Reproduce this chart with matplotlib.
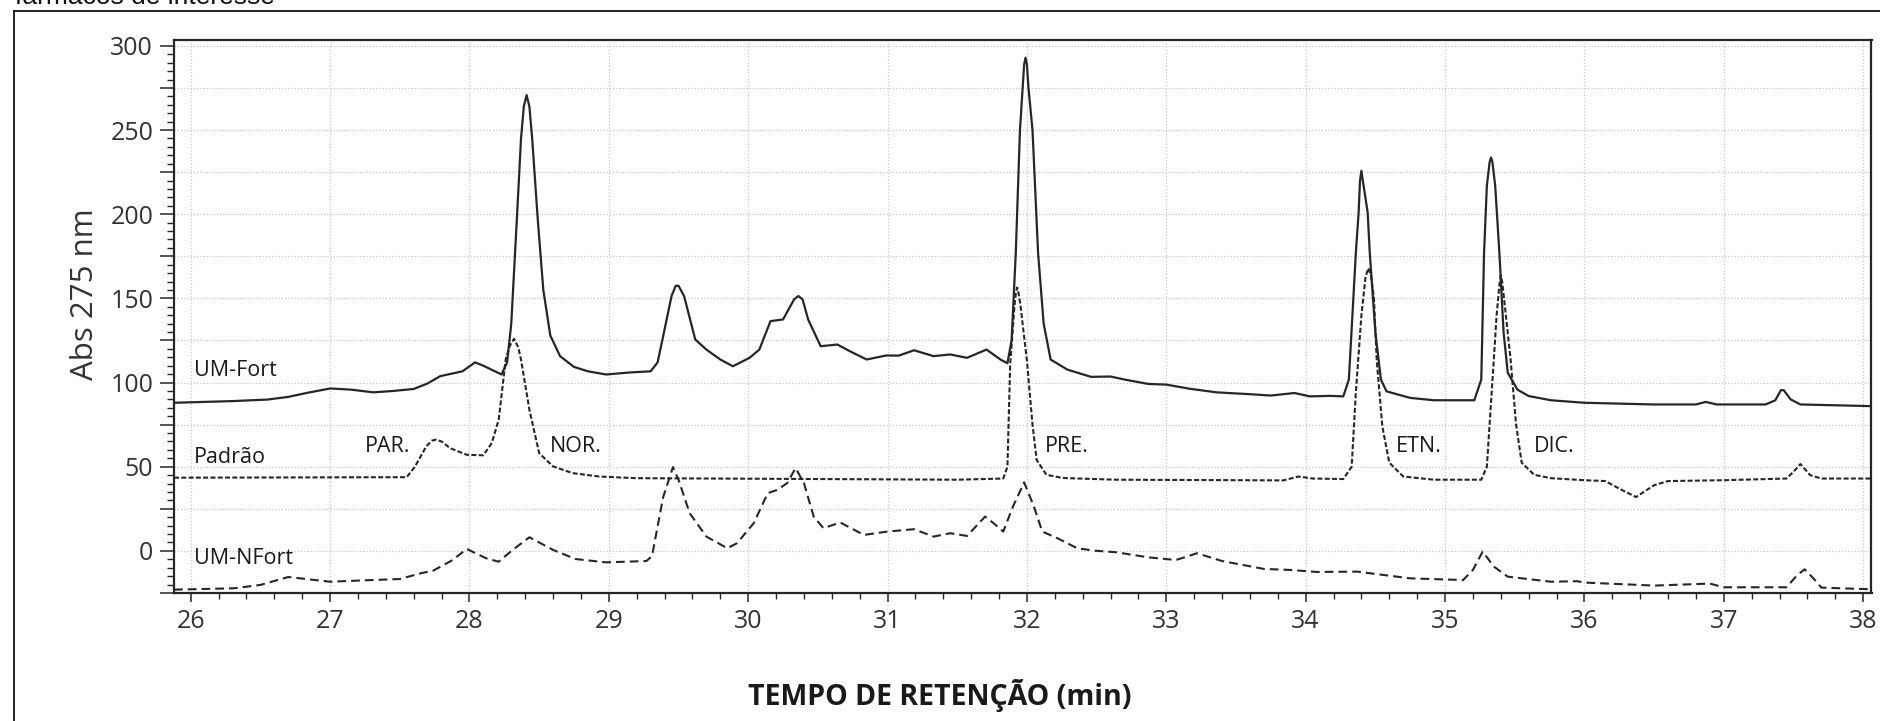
"""
plot.py
-------
Recreate the HPLC chromatogram comparison (UM-Fort / Padrao / UM-NFort).
"""

import matplotlib
matplotlib.use("Agg")
import matplotlib.pyplot as plt
from matplotlib.lines import Line2D
from matplotlib.ticker import MultipleLocator, FuncFormatter

# --- data (retention time in min, absorbance) ---
um_fort_t = [25.88, 26.0, 26.3, 26.55, 26.7, 26.83, 27.0, 27.15, 27.31, 27.45,
             27.6, 27.7, 27.79, 27.95, 28.04, 28.1, 28.23, 28.27, 28.30, 28.34,
             28.37, 28.39, 28.41, 28.43, 28.45, 28.49, 28.53, 28.58, 28.65, 28.75,
             28.85, 28.98, 29.15, 29.30, 29.35, 29.39, 29.45, 29.48, 29.50, 29.54,
             29.62, 29.70, 29.80, 29.89, 30.01, 30.08, 30.16, 30.25, 30.33, 30.36,
             30.39, 30.43, 30.52, 30.64, 30.73, 30.85, 30.99, 31.08, 31.19, 31.33,
             31.45, 31.57, 31.71, 31.81, 31.86, 31.89, 31.92, 31.95, 31.97, 31.98,
             31.99, 32.00, 32.01, 32.04, 32.08, 32.12, 32.17, 32.29, 32.46, 32.60,
             32.70, 32.87, 33.0, 33.17, 33.36, 33.60, 33.75, 33.92, 34.03, 34.18,
             34.27, 34.31, 34.36, 34.38, 34.39, 34.40, 34.41, 34.425, 34.445, 34.46,
             34.50, 34.54, 34.58, 34.75, 34.92, 35.21, 35.26, 35.28, 35.30, 35.32,
             35.33, 35.34, 35.36, 35.39, 35.42, 35.45, 35.52, 35.60, 35.76, 36.0,
             36.5, 36.8, 36.87, 36.95, 37.3, 37.37, 37.41, 37.43, 37.48, 37.55,
             38.06]
um_fort_v = [88.0, 88.3, 89.0, 89.9, 91.5, 93.8, 96.5, 95.8, 94.2, 95.0,
             96.2, 99.5, 103.8, 106.7, 112.0, 110.0, 104.8, 112.0, 135.0, 197.0,
             245.0, 264.0, 270.8, 264.0, 245.0, 197.0, 155.0, 128.0, 115.7, 109.3,
             106.7, 104.8, 106.0, 106.7, 112.0, 127.6, 151.4, 157.5, 157.5, 151.4,
             125.6, 119.6, 113.7, 109.7, 114.7, 119.6, 136.5, 137.5, 149.5, 151.4,
             149.5, 137.5, 121.6, 122.6, 118.6, 113.7, 116.1, 116.0, 119.2, 115.7,
             116.7, 114.7, 119.6, 113.7, 111.5, 125.0, 177.0, 250.0, 276.0, 289.0,
             293.0, 289.0, 276.0, 250.0, 177.0, 135.0, 113.7, 107.7, 103.4, 103.6,
             101.8, 99.2, 98.8, 96.3, 94.2, 93.1, 92.3, 93.8, 91.8, 92.1,
             91.8, 101.8, 177.0, 201.0, 220.0, 225.8, 220.0, 212.0, 201.0, 177.0,
             130.0, 101.8, 94.8, 90.9, 89.5, 89.5, 101.8, 177.0, 216.8, 231.0,
             233.7, 231.0, 216.8, 177.0, 130.0, 105.8, 95.8, 92.0, 89.5, 88.0,
             87.0, 87.0, 88.5, 87.0, 87.0, 89.5, 95.5, 95.5, 90.0, 87.0,
             86.0]

padrao_t = [25.88, 27.55, 27.61, 27.69, 27.73, 27.76, 27.80, 27.86, 27.98, 28.1,
            28.16, 28.21, 28.26, 28.29, 28.32, 28.35, 28.37, 28.43, 28.50, 28.6,
            28.74, 28.93, 29.2, 30.5, 31.5, 31.83, 31.86, 31.88, 31.91, 31.92,
            31.93, 31.94, 31.955, 32.0, 32.04, 32.07, 32.14, 32.26, 32.64, 33.84,
            33.95, 34.05, 34.27, 34.33, 34.36, 34.40, 34.43, 34.45, 34.47, 34.49,
            34.51, 34.55, 34.60, 34.70, 34.92, 35.26, 35.30, 35.35, 35.37, 35.39,
            35.40, 35.41, 35.43, 35.47, 35.51, 35.55, 35.64, 35.76, 36.0, 36.15,
            36.25, 36.37, 36.5, 36.6, 37.0, 37.45, 37.50, 37.55, 37.62, 37.7,
            38.06]
padrao_v = [43.5, 43.8, 50.2, 62.1, 65.5, 66.1, 65.0, 61.1, 57.1, 56.8,
            64.1, 78.0, 113.7, 122.0, 126.0, 121.0, 113.7, 83.9, 58.1, 50.2,
            46.2, 44.2, 43.2, 42.7, 42.3, 43.0, 50.0, 111.0, 145.0, 153.0,
            156.5, 153.0, 145.0, 113.0, 75.0, 54.0, 45.2, 43.3, 42.3, 41.9,
            44.2, 43.0, 42.7, 50.0, 94.0, 140.0, 163.0, 168.0, 163.0, 150.0,
            113.0, 74.0, 52.4, 44.2, 42.3, 42.3, 50.0, 113.7, 140.0, 158.0,
            163.7, 160.0, 145.0, 114.0, 75.0, 52.4, 45.2, 43.2, 42.0, 41.5,
            37.0, 32.0, 39.0, 41.5, 42.0, 43.0, 47.0, 51.6, 45.0, 43.0,
            43.0]

um_nfort_t = [25.88, 26.0, 26.31, 26.50, 26.7, 27.0, 27.3, 27.5, 27.65, 27.74,
              27.88, 27.98, 28.12, 28.21, 28.31, 28.43, 28.6, 28.76, 28.98, 29.27,
              29.31, 29.39, 29.46, 29.50, 29.58, 29.70, 29.85, 29.92, 30.04, 30.14,
              30.21, 30.28, 30.34, 30.40, 30.47, 30.54, 30.66, 30.83, 31.0, 31.19,
              31.33, 31.45, 31.57, 31.70, 31.76, 31.83, 31.90, 31.98, 32.05, 32.11,
              32.22, 32.36, 32.48, 32.64, 32.87, 33.07, 33.22, 33.40, 33.70, 33.89,
              34.08, 34.37, 34.56, 34.75, 35.13, 35.20, 35.27, 35.35, 35.45, 35.76,
              35.95, 36.0, 36.5, 36.9, 37.0, 37.45, 37.52, 37.58, 37.64, 37.7,
              38.06]
um_nfort_v = [-23.0, -22.8, -22.2, -20.2, -15.5, -18.3, -17.3, -16.7, -13.3, -11.7,
              -5.4, 1.2, -4.4, -6.4, 0.6, 8.1, 0.6, -4.8, -6.8, -6.0,
              -3.0, 32.0, 49.8, 42.3, 22.4, 8.5, 1.6, 4.6, 16.5, 34.3,
              36.3, 40.3, 49.2, 40.3, 20.4, 13.5, 16.9, 9.5, 11.5, 12.9,
              8.5, 10.5, 8.9, 20.4, 16.5, 11.5, 26.4, 40.7, 26.4, 11.5,
              7.5, 1.6, 0.2, -0.8, -3.8, -5.4, -1.4, -6.0, -10.7, -11.3,
              -12.5, -12.3, -14.3, -16.3, -17.3, -11.3, -0.4, -9.3, -15.3, -18.3,
              -18.0, -18.8, -20.6, -19.4, -21.6, -21.6, -15.0, -10.9, -16.0, -21.8,
              -22.8]

# trace names (left side) and peak names
trace_labels = ["UM-Fort", "Padrão", "UM-NFort"]
trace_label_x = [26.02, 26.02, 26.02]
trace_label_y = [104, 52, -8]

peak_labels = ["PAR.", "NOR.", "PRE.", "ETN.", "DIC."]
peak_label_x = [27.25, 28.58, 32.13, 34.65, 35.64]
peak_label_y = [59, 59, 59, 59, 59]

INK = "#262626"
FONT = ["Open Sans", "DejaVu Sans"]


def plot_chromatogram(output_file="out.png"):
    W, H = 1881, 721
    fig = plt.figure(figsize=(W / 100, H / 100), dpi=100)
    ax = fig.add_axes([174 / W, 1 - 593 / H, (1871.5 - 174) / W, (593 - 40) / H])

    ax.plot(um_fort_t, um_fort_v, color=INK, lw=1.6, solid_joinstyle="round")
    ax.plot(padrao_t, padrao_v, color=INK, lw=1.5, linestyle=(0, (2.4, 1.1)))
    ax.plot(um_nfort_t, um_nfort_v, color=INK, lw=1.5, linestyle=(0, (4.2, 2.4)))

    ax.set_xlim(25.88, 38.06)
    ax.set_ylim(-25, 303.5)

    ax.xaxis.set_major_locator(MultipleLocator(1))
    ax.xaxis.set_minor_locator(MultipleLocator(0.2))
    ax.yaxis.set_major_locator(MultipleLocator(25))
    ax.yaxis.set_minor_locator(MultipleLocator(5))
    ax.yaxis.set_major_formatter(FuncFormatter(lambda v, _: f"{v:.0f}" if v % 50 == 0 else ""))

    ax.grid(True, which="major", color="#c8c8c8", lw=0.9, linestyle=(0, (1, 1.6)))

    ax.tick_params(axis="y", which="major", length=10, width=1.1, color=INK, pad=5,
                   labelsize=18, labelcolor="#333333")
    ax.tick_params(axis="y", which="minor", length=5, width=1.0, color=INK)
    ax.tick_params(axis="x", which="major", length=6.5, width=1.1, color=INK, pad=5,
                   labelsize=18, labelcolor="#333333")
    ax.tick_params(axis="x", which="minor", length=4, width=1.0, color=INK)
    for lab in ax.get_xticklabels() + ax.get_yticklabels():
        lab.set_family(FONT)

    for sp in ax.spines.values():
        sp.set_color(INK)
        sp.set_linewidth(1.6)

    for name, x, y in zip(trace_labels, trace_label_x, trace_label_y):
        ax.text(x, y, name, fontsize=15.5, color="#1a1a1a", family=FONT, va="baseline")
    for name, x, y in zip(peak_labels, peak_label_x, peak_label_y):
        ax.text(x, y, name, fontsize=15.5, color="#1a1a1a", family=FONT, va="baseline")

    fig.text(85 / W, 1 - 294 / H, "Abs 275 nm", rotation=90, ha="center", va="center",
             fontsize=22.5, color="#333333", family=FONT)
    fig.text(940 / W, 1 - 696 / H, "TEMPO DE RETENÇÃO (min)", ha="center", va="center",
             fontsize=20.5, fontweight="bold", color="#1a1a1a", family=FONT)

    # caption from the page above, clipped at the top edge
    fig.text(15 / W, 1 - 4 / H, "fármacos de interesse", ha="left", va="baseline",
             fontsize=19, color="#111111", family=["Liberation Sans", "DejaVu Sans"])

    # outer frame (left and top edges visible)
    fx, fy = 14.5 / W, 1 - 10.5 / H
    fig.add_artist(Line2D([fx, fx], [0, fy], transform=fig.transFigure, color="#111111", lw=1.3))
    fig.add_artist(Line2D([fx, 1], [fy, fy], transform=fig.transFigure, color="#111111", lw=1.3))

    fig.savefig(output_file, dpi=100, facecolor="white")
    plt.close(fig)


def main():
    plot_chromatogram("out.png")


if __name__ == "__main__":
    main()
